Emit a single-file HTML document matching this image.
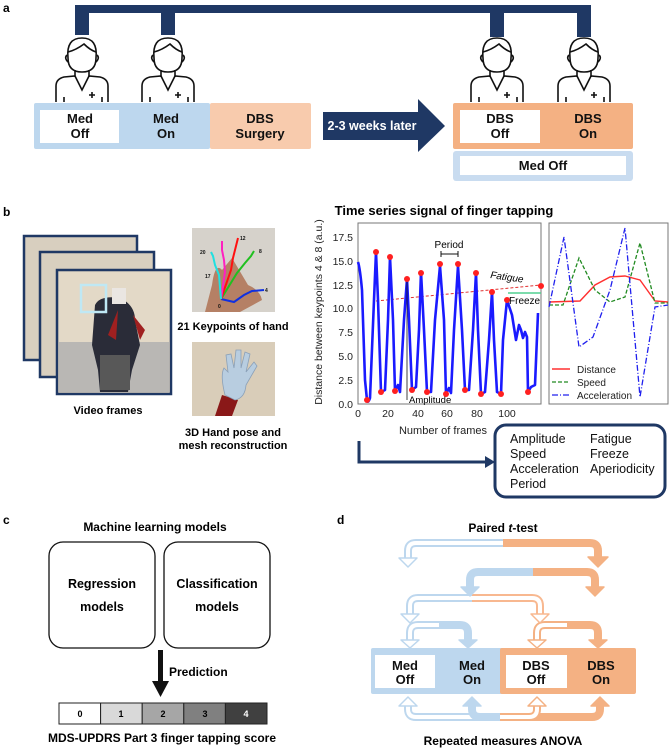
<!DOCTYPE html>
<html><head><meta charset="utf-8"><style>
body{margin:0;background:#fff}
svg{display:block;font-family:"Liberation Sans",Arial,sans-serif}
.b{font-weight:bold}
</style></head><body>
<svg width="669" height="750" viewBox="0 0 669 750" xmlns="http://www.w3.org/2000/svg">
<defs>
<g id="person" fill="none" stroke="#111" stroke-width="1.6">
  <path d="M-14,58 Q-16,38 0,38 Q16,38 14,58 Q14,72 0,72 Q-14,72 -14,58 Z"/>
  <path d="M-14,52 Q-6,50 2,44 Q8,50 14,52"/>
  <path d="M-15,55 Q-18,58 -14,62 M15,55 Q18,58 14,62"/>
  <path d="M-7,70 V77 M7,70 V77"/>
  <path d="M-26,102 V86 Q-26,79 -18,77 L-7,76 L0,90 L7,76 L18,77 Q26,79 26,86 V102"/>
  <path d="M-18,97 V102 M20,97 V102 M10,92 V98 M7,95 H13"/>
</g>
</defs>
<text x="3" y="12" class="b" font-size="12">a</text>
<!-- bracket -->
<g fill="#1f3864">
<rect x="75" y="5" width="516" height="8"/>
<rect x="75" y="5" width="14" height="30"/>
<rect x="161" y="5" width="14" height="30"/>
<rect x="490" y="5" width="14" height="32"/>
<rect x="577" y="5" width="14" height="32"/>
</g>
<use href="#person" x="82" y="0"/>
<use href="#person" x="168" y="0"/>
<use href="#person" x="497" y="0"/>
<use href="#person" x="584" y="0"/>
<!-- boxes a -->
<rect x="34" y="103" width="176" height="46" rx="2" fill="#bdd7ee"/>
<rect x="40" y="110" width="79" height="33" fill="#fff"/>
<rect x="210" y="103" width="101" height="46" rx="2" fill="#f8cbad"/>
<g class="b" font-size="13" text-anchor="middle" fill="#111">
<text x="80" y="123">Med</text><text x="80" y="138">Off</text>
<text x="166" y="123">Med</text><text x="166" y="138">On</text>
<text x="260" y="123">DBS</text><text x="260" y="138">Surgery</text>
</g>
<path d="M323,112 H418 V99 L445,126 L418,152 V140 H323 Z" fill="#1f3864"/>
<text x="372" y="130" class="b" font-size="12.5" fill="#fff" text-anchor="middle">2-3 weeks later</text>
<rect x="453" y="103" width="180" height="46" rx="2" fill="#f4b183"/>
<rect x="460" y="110" width="80" height="33" fill="#fff"/>
<rect x="453" y="151" width="180" height="30" rx="3" fill="#c9dcf0"/>
<rect x="460" y="156" width="166" height="19" fill="#fff"/>
<g class="b" font-size="13" text-anchor="middle" fill="#111">
<text x="500" y="123">DBS</text><text x="500" y="138">Off</text>
<text x="588" y="123">DBS</text><text x="588" y="138">On</text>
<text x="543" y="170">Med Off</text>
</g>

<!-- panel b -->
<text x="3" y="216" class="b" font-size="12">b</text>
<text x="444" y="215" class="b" font-size="13" text-anchor="middle">Time series signal of finger tapping</text>
<!-- video frames -->
<g>
<rect x="24" y="236" width="113" height="124" fill="#d8cfbf" stroke="#1f3864" stroke-width="2.5"/>
<rect x="40" y="252" width="114" height="125" fill="#d8cfbf" stroke="#1f3864" stroke-width="2.5"/>
<rect x="57" y="270" width="114" height="124" fill="#ddd3c2" stroke="#1f3864" stroke-width="2.5"/>
<rect x="59" y="272" width="110" height="70" fill="#e3d9c7"/>
<rect x="59" y="342" width="110" height="50" fill="#b9b7b4"/>
<path d="M95,305 Q100,295 120,298 Q135,305 135,320 L140,345 L132,370 L128,392 L100,392 L98,370 L92,345 Z" fill="#2a2c38"/>
<rect x="112" y="288" width="14" height="16" fill="#eae6e2"/>
<path d="M118,310 L108,335 L116,340 Z" fill="#a02020"/>
<path d="M133,315 L145,330 L140,340 Z" fill="#a02020"/>
<rect x="100" y="355" width="30" height="35" fill="#585858"/>
<rect x="81" y="285" width="25" height="27" fill="none" stroke="#bfe8f4" stroke-width="2.5"/>
</g>
<text x="108" y="414" class="b" font-size="11" text-anchor="middle">Video frames</text>
<!-- keypoints image -->
<rect x="192" y="228" width="83" height="84" fill="#d6d2cb"/>
<path d="M205,312 L212,285 Q215,262 222,270 L232,258 L248,285 Q260,290 262,300 L240,312 Z" fill="#b58065"/>
<g stroke-width="2" fill="none">
<path d="M221,299 L234,302 L244,295 L252,291 L264,290" stroke="#1030e0"/>
<path d="M221,299 L237,273 L245,263 L251,256 L254,251" stroke="#20c020"/>
<path d="M221,299 L231,270 L233,258 L236,246 L238,238" stroke="#ff1010"/>
<path d="M221,299 L225,272 L224,260 L222,250 L222,241" stroke="#ff20c0"/>
<path d="M221,299 L219,275 L215,265 L213,256 L211,252" stroke="#20e0e0"/>
</g>
<g font-size="5" class="b" fill="#111"><text x="240" y="240">12</text><text x="259" y="253">8</text><text x="265" y="292">4</text><text x="218" y="308">0</text><text x="200" y="254">20</text><text x="205" y="278">17</text></g>
<text x="233" y="330" class="b" font-size="11" text-anchor="middle">21 Keypoints of hand</text>
<rect x="192" y="342" width="83" height="74" fill="#d9cdb9"/>
<path d="M215,416 L222,395 L238,400 L232,416 Z" fill="#8a1818"/>
<path d="M225,395 Q220,375 224,368 L228,372 L226,355 L231,354 L234,368 L236,350 L241,350 L241,368 L245,352 L250,354 L246,372 L254,362 L257,366 L246,385 Q245,398 235,400 Z" fill="#b8cde0" stroke="#8aa0b8" stroke-width="0.8"/>
<text x="233" y="436" class="b" font-size="11" text-anchor="middle">3D Hand pose and</text>
<text x="233" y="449" class="b" font-size="11" text-anchor="middle">mesh reconstruction</text>

<!-- chart 1 -->
<rect x="358" y="223" width="183" height="181" fill="#fff" stroke="#777" stroke-width="1"/>
<g font-size="10.5" fill="#222" text-anchor="end">
<text x="353" y="408">0.0</text><text x="353" y="384">2.5</text><text x="353" y="360">5.0</text><text x="353" y="336">7.5</text><text x="353" y="312">10.0</text><text x="353" y="289">12.5</text><text x="353" y="265">15.0</text><text x="353" y="241">17.5</text>
</g>
<g font-size="10.5" fill="#222" text-anchor="middle">
<text x="358" y="417">0</text><text x="388" y="417">20</text><text x="418" y="417">40</text><text x="447" y="417">60</text><text x="477" y="417">80</text><text x="507" y="417">100</text>
<text x="443" y="434" font-size="11">Number of frames</text>
</g>
<text transform="translate(322,312) rotate(-90)" font-size="10.5" text-anchor="middle" fill="#222">Distance between keypoints 4 &amp; 8 (a.u.)</text>
<path d="M376,301 L541,285" stroke="#e03030" stroke-width="1" stroke-dasharray="3,2" fill="none"/>
<path d="M358,262 Q360,268 362,290 L365,380 L367,400 Q368,404 370,398 L374,300 L376,252 L378,300 L381,392 L385,390 L388,320 L390,257 L393,320 L395,391 L398,385 L400,392 L404,320 L407,279 L409,320 L412,390 L416,387 L419,330 L421,272 L424,330 L427,392 L431,392 L435,320 L440,266 L444,320 L446,394 L449,388 L451,393 L454,330 L458,266 L462,330 L465,390 L469,390 L473,330 L476,273 L478,330 L481,394 L485,392 L489,340 L492,292 L494,340 L497,392 L501,394 L503,340 L507,300 L512,315 L516,340 L519,325 L521,330 L523,338 L525,332 L527,337 L528,392 L531,387 L535,385 L538,313" fill="none" stroke="#1a1aff" stroke-width="2.6" stroke-linejoin="round"/>
<g fill="#ff2020">
<circle cx="376" cy="252" r="3"/><circle cx="390" cy="257" r="3"/><circle cx="407" cy="279" r="3"/><circle cx="421" cy="273" r="3"/><circle cx="440" cy="264" r="3"/><circle cx="458" cy="264" r="3"/><circle cx="476" cy="273" r="3"/><circle cx="492" cy="292" r="3"/><circle cx="507" cy="300" r="3"/><circle cx="541" cy="286" r="3"/>
<circle cx="367" cy="400" r="3"/><circle cx="381" cy="392" r="3"/><circle cx="395" cy="391" r="3"/><circle cx="412" cy="390" r="3"/><circle cx="427" cy="392" r="3"/><circle cx="446" cy="394" r="3"/><circle cx="465" cy="390" r="3"/><circle cx="481" cy="394" r="3"/><circle cx="501" cy="394" r="3"/><circle cx="528" cy="392" r="3"/>
</g>
<g stroke="#111" stroke-width="1" fill="#111">
<path d="M441,254 H458 M441,251 V257 M458,251 V257"/>
<path d="M407,282 V400" stroke-width="0.8"/>
</g>
<text x="449" y="248" font-size="10" text-anchor="middle">Period</text>
<text x="490" y="278" font-size="10" font-style="italic" transform="rotate(8 490 278)">Fatigue</text>
<text x="409" y="403" font-size="9.5">Amplitude</text>
<path d="M508,293 H541" stroke="#50d090" stroke-width="1.5"/>
<text x="509" y="304" font-size="10">Freeze</text>
<!-- chart 2 -->
<rect x="549" y="223" width="119" height="181" fill="#fff" stroke="#777" stroke-width="1"/>
<path d="M549,302 L580,301 L595,285 L610,277 L625,276 L640,280 L655,301 L668,302" fill="none" stroke="#ff3030" stroke-width="1.4"/>
<path d="M549,305 L563,305 L579,258 L595,290 L610,302 L625,297 L640,243 L655,303 L668,303" fill="none" stroke="#228b22" stroke-width="1.3" stroke-dasharray="4,2"/>
<path d="M549,307 L564,237 L579,347 L593,337 L610,290 L625,228 L640,397 L655,307 L668,305" fill="none" stroke="#2020ee" stroke-width="1.3" stroke-dasharray="6,2,1,2"/>
<g font-size="10" fill="#222">
<path d="M552,369 H570" stroke="#ff3030" stroke-width="1.4"/><text x="577" y="373">Distance</text>
<path d="M552,382 H570" stroke="#228b22" stroke-width="1.3" stroke-dasharray="4,2"/><text x="577" y="386">Speed</text>
<path d="M552,395 H570" stroke="#2020ee" stroke-width="1.3" stroke-dasharray="6,2,1,2"/><text x="577" y="399">Acceleration</text>
</g>
<!-- features -->
<path d="M359,441 V462 H488" fill="none" stroke="#1f3864" stroke-width="3"/>
<path d="M485,456 L495,462 L485,468 Z" fill="#1f3864"/>
<rect x="495" y="425" width="170" height="72" rx="11" fill="#fff" stroke="#1f3864" stroke-width="3"/>
<g font-size="12.5" fill="#111">
<text x="510" y="443">Amplitude</text><text x="510" y="458">Speed</text><text x="510" y="473">Acceleration</text><text x="510" y="488">Period</text>
<text x="590" y="443">Fatigue</text><text x="590" y="458">Freeze</text><text x="590" y="473">Aperiodicity</text>
</g>

<!-- panel c -->
<text x="3" y="524" class="b" font-size="12">c</text>
<text x="155" y="531" class="b" font-size="12" text-anchor="middle">Machine learning models</text>
<rect x="49" y="542" width="106" height="106" rx="14" fill="#fff" stroke="#111" stroke-width="1.3"/>
<rect x="164" y="542" width="106" height="106" rx="14" fill="#fff" stroke="#111" stroke-width="1.3"/>
<g class="b" font-size="12.5" text-anchor="middle">
<text x="102" y="588">Regression</text><text x="102" y="611">models</text>
<text x="217" y="588">Classification</text><text x="217" y="611">models</text>
</g>
<rect x="158" y="650" width="5" height="32" fill="#111"/>
<path d="M152,681 H169 L160.5,697 Z" fill="#111"/>
<text x="169" y="676" class="b" font-size="12">Prediction</text>
<g stroke="#222" stroke-width="1">
<rect x="59" y="703" width="41.6" height="21" fill="#fff"/>
<rect x="100.6" y="703" width="41.6" height="21" fill="#d9d9d9"/>
<rect x="142.2" y="703" width="41.6" height="21" fill="#a6a6a6"/>
<rect x="183.8" y="703" width="41.6" height="21" fill="#808080"/>
<rect x="225.4" y="703" width="41.6" height="21" fill="#404040"/>
</g>
<g class="b" font-size="9" text-anchor="middle">
<text x="80" y="717">0</text><text x="121" y="717">1</text><text x="163" y="717">2</text><text x="205" y="717">3</text><text x="246" y="717" fill="#fff">4</text>
</g>
<text x="162" y="742" class="b" font-size="12" text-anchor="middle">MDS-UPDRS Part 3 finger tapping score</text>

<!-- panel d -->
<text x="337" y="524" class="b" font-size="12">d</text>
<text x="503" y="532" class="b" font-size="12" text-anchor="middle">Paired <tspan font-style="italic">t</tspan>-test</text>
<g fill="none" stroke-linejoin="round">
<!-- arrow 1 -->
<path d="M503,543 H416 Q408,543 408,551 V558" stroke="#bdd7ee" stroke-width="8"/>
<path d="M503,543 H416 Q408,543 408,551 V559" stroke="#fff" stroke-width="4"/>
<path d="M503,543 H590 Q598,543 598,551 V558" stroke="#f4b183" stroke-width="8"/>
<!-- arrow 2 -->
<path d="M533,572 H478 Q470,572 470,580 V587" stroke="#bdd7ee" stroke-width="8"/>
<path d="M533,572 H587 Q595,572 595,580 V587" stroke="#f4b183" stroke-width="8"/>
<!-- arrow 3 -->
<path d="M472,598 H418 Q410,598 410,606 V614" stroke="#bdd7ee" stroke-width="8"/>
<path d="M472,598 H418 Q410,598 410,606 V615" stroke="#fff" stroke-width="4"/>
<path d="M472,598 H532 Q540,598 540,606 V614" stroke="#f8b890" stroke-width="8"/>
<path d="M472,598 H532 Q540,598 540,606 V615" stroke="#fff" stroke-width="4"/>
<!-- arrow 4 med -->
<path d="M440,625 H418 Q410,625 410,633 V640" stroke="#bdd7ee" stroke-width="8"/>
<path d="M440,625 H418 Q410,625 410,633 V641" stroke="#fff" stroke-width="4"/>
<path d="M439,625 H460 Q468,625 468,633 V640" stroke="#bdd7ee" stroke-width="8"/>
<!-- arrow 4 dbs -->
<path d="M568,625 H545 Q537,625 537,633 V640" stroke="#f4b183" stroke-width="8"/>
<path d="M568,625 H545 Q537,625 537,633 V641" stroke="#fff" stroke-width="4"/>
<path d="M567,625 H590 Q598,625 598,633 V640" stroke="#f4b183" stroke-width="8"/>
<!-- bottom -->
<path d="M408,706 V709 Q408,717 416,717 H500" stroke="#bdd7ee" stroke-width="8"/>
<path d="M408,705 V709 Q408,717 416,717 H500" stroke="#fff" stroke-width="4"/>
<path d="M472,706 V709 Q472,717 480,717 H500" stroke="#bdd7ee" stroke-width="8"/>
<path d="M500,717 H592 Q600,717 600,709 V706" stroke="#f4b183" stroke-width="8"/>
<path d="M500,717 H529 Q537,717 537,709 V706" stroke="#f4b183" stroke-width="8"/>
<path d="M500,717 H529 Q537,717 537,709 V705" stroke="#fff" stroke-width="4"/>
</g>
<!-- heads -->
<g stroke-width="1.5" stroke-linejoin="round">
<path d="M399,558 H417 L408,567 Z" fill="#fff" stroke="#bdd7ee"/>
<path d="M588,557 H608 L598,567 Z" fill="#f4b183" stroke="#f4b183"/>
<path d="M461,587 H479 L470,596 Z" fill="#bdd7ee" stroke="#bdd7ee"/>
<path d="M586,587 H604 L595,596 Z" fill="#f4b183" stroke="#f4b183"/>
<path d="M401,614 H419 L410,623 Z" fill="#fff" stroke="#bdd7ee"/>
<path d="M531,614 H549 L540,623 Z" fill="#fff" stroke="#f8b890"/>
<path d="M401,640 H419 L410,648 Z" fill="#fff" stroke="#bdd7ee"/>
<path d="M459,640 H477 L468,648 Z" fill="#bdd7ee" stroke="#bdd7ee"/>
<path d="M528,640 H546 L537,648 Z" fill="#fff" stroke="#f4b183"/>
<path d="M589,640 H607 L598,648 Z" fill="#f4b183" stroke="#f4b183"/>
<path d="M399,706 H417 L408,697 Z" fill="#fff" stroke="#bdd7ee"/>
<path d="M463,706 H481 L472,697 Z" fill="#bdd7ee" stroke="#bdd7ee"/>
<path d="M528,706 H546 L537,697 Z" fill="#fff" stroke="#f4b183"/>
<path d="M591,706 H609 L600,697 Z" fill="#f4b183" stroke="#f4b183"/>
</g>
<!-- d boxes -->
<rect x="371" y="648" width="132" height="46" rx="2" fill="#bdd7ee"/>
<rect x="375" y="655" width="60" height="33" fill="#fff"/>
<rect x="500" y="648" width="136" height="46" rx="2" fill="#f4b183"/>
<rect x="506" y="655" width="61" height="33" fill="#fff"/>
<g class="b" font-size="13" text-anchor="middle" fill="#111">
<text x="405" y="670">Med</text><text x="405" y="684">Off</text>
<text x="472" y="670">Med</text><text x="472" y="684">On</text>
<text x="536" y="670">DBS</text><text x="536" y="684">Off</text>
<text x="601" y="670">DBS</text><text x="601" y="684">On</text>
</g>
<text x="503" y="745" class="b" font-size="12" text-anchor="middle">Repeated measures ANOVA</text>
</svg>
</body></html>
